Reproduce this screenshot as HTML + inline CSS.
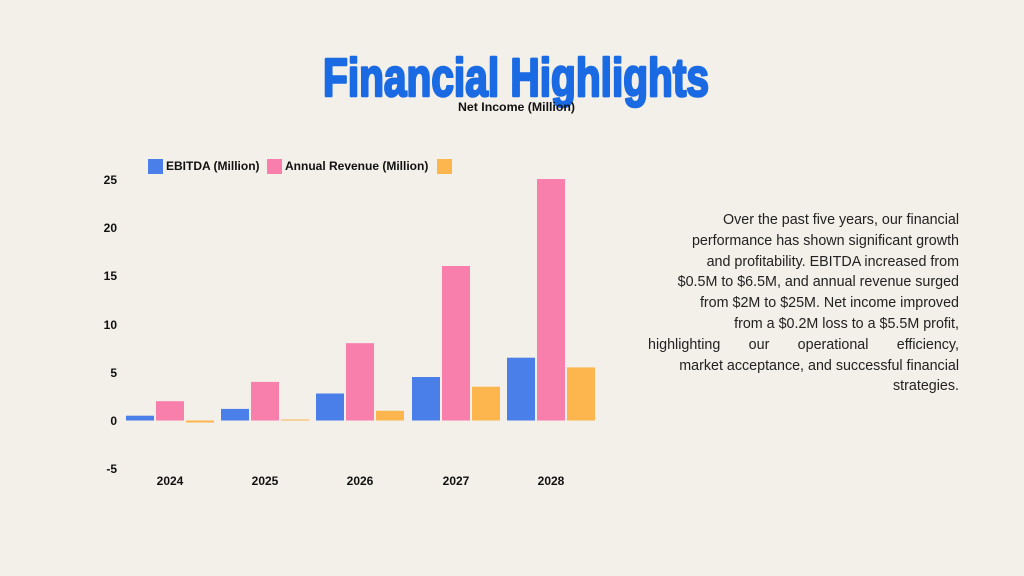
<!DOCTYPE html>
<html><head><meta charset="utf-8"><style>
html,body{margin:0;padding:0;}
body{width:1024px;height:576px;background:#f3efe9;overflow:hidden;position:relative;font-family:"Liberation Sans",sans-serif;}
svg{position:absolute;left:0;top:0;}
.p{position:absolute;left:640px;top:210px;width:319px;font-size:14.3px;line-height:20.8px;color:#222;text-align:right;}
.p div{white-space:nowrap;}
.p .j{text-align:justify;text-align-last:justify;margin-left:8px;}
</style></head><body>
<svg width="1024" height="576" viewBox="0 0 1024 576">
<rect width="1024" height="576" fill="#f3efe9"/>
<text x="323" y="96" font-family="Liberation Sans" font-weight="bold" font-size="54" fill="#1a6ae3" stroke="#1a6ae3" stroke-width="2.6" stroke-linejoin="round" textLength="386" lengthAdjust="spacingAndGlyphs">Financial Highlights</text>
<text x="458" y="111" font-family="Liberation Sans" font-weight="bold" font-size="11.5" fill="#111" textLength="117" lengthAdjust="spacingAndGlyphs">Net Income (Million)</text>
<g font-family="Liberation Sans" font-weight="bold" font-size="12" fill="#111">
<rect x="148" y="159" width="15" height="15" fill="#4a7fea"/>
<text x="166" y="170">EBITDA (Million)</text>
<rect x="267" y="159" width="15" height="15" fill="#f87eab"/>
<text x="285" y="170">Annual Revenue (Million)</text>
<rect x="437" y="159" width="15" height="15" fill="#fdb64e"/>
<g text-anchor="end">
<text x="117" y="184">25</text><text x="117" y="232">20</text><text x="117" y="280">15</text>
<text x="117" y="329">10</text><text x="117" y="377">5</text><text x="117" y="425">0</text><text x="117" y="473">-5</text>
</g>
<g text-anchor="middle">
<text x="170" y="485">2024</text><text x="265" y="485">2025</text><text x="360" y="485">2026</text><text x="456" y="485">2027</text><text x="551" y="485">2028</text>
</g>
</g>
<g>
<rect x="126" y="415.7" width="28" height="4.8" fill="#4a7fea"/>
<rect x="156" y="401.2" width="28" height="19.3" fill="#f87eab"/>
<rect x="186" y="420.5" width="28" height="2" fill="#fdb64e"/>
<rect x="221" y="408.9" width="28" height="11.6" fill="#4a7fea"/>
<rect x="251" y="381.9" width="28" height="38.6" fill="#f87eab"/>
<rect x="281" y="419.5" width="28" height="1" fill="#fdb64e"/>
<rect x="316" y="393.5" width="28" height="27" fill="#4a7fea"/>
<rect x="346" y="343.2" width="28" height="77.3" fill="#f87eab"/>
<rect x="376" y="410.8" width="28" height="9.7" fill="#fdb64e"/>
<rect x="412" y="377" width="28" height="43.5" fill="#4a7fea"/>
<rect x="442" y="266" width="28" height="154.5" fill="#f87eab"/>
<rect x="472" y="386.7" width="28" height="33.8" fill="#fdb64e"/>
<rect x="507" y="357.7" width="28" height="62.8" fill="#4a7fea"/>
<rect x="537" y="179" width="28" height="241.5" fill="#f87eab"/>
<rect x="567" y="367.4" width="28" height="53.1" fill="#fdb64e"/>
</g>
</svg>
<div class="p">
<div>Over the past five years, our financial</div>
<div>performance has shown significant growth</div>
<div>and profitability. EBITDA increased from</div>
<div>$0.5M to $6.5M, and annual revenue surged</div>
<div>from $2M to $25M. Net income improved</div>
<div>from a $0.2M loss to a $5.5M profit,</div>
<div class="j">highlighting our operational efficiency,</div>
<div>market acceptance, and successful financial</div>
<div>strategies.</div>
</div>
</body></html>
